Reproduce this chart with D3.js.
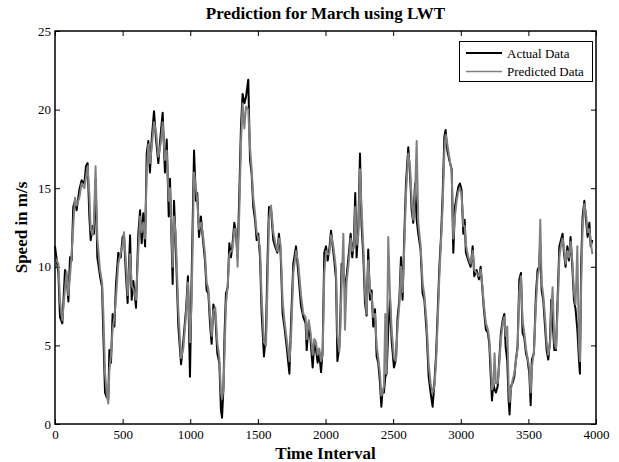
<!DOCTYPE html>
<html>
<head>
<meta charset="utf-8">
<title>Prediction for March using LWT</title>
<script src="https://cdn.jsdelivr.net/npm/d3@7/dist/d3.min.js"></script>
<style>
  html, body { margin: 0; padding: 0; background: #fff; }
  svg { display: block; }
  text { font-family: "Liberation Serif", "Times New Roman", serif; fill: #000; }
</style>
</head>
<body>
<svg class="lwt-chart" width="619" height="462"></svg>
<script>
// chart data
var timeIdx = [
  0, 25, 37, 54, 74, 86, 99, 111, 123, 135, 148, 160, 180, 197, 217, 229, 241, 254, 264, 278,
  288, 300, 313, 333, 348, 357, 370, 382, 394, 402, 414, 426, 439, 451, 468, 486, 500, 510, 525, 537,
  555, 567, 579, 599, 616, 629, 641, 653, 666, 678, 690, 702, 715, 732, 747, 764, 784, 796, 813, 826,
  841, 850, 870, 880, 892, 912, 932, 949, 969, 983, 998, 1010, 1028, 1042, 1052, 1065, 1079, 1092, 1109, 1121,
  1134, 1146, 1158, 1171, 1185, 1200, 1215, 1227, 1235, 1245, 1254, 1264, 1277, 1289, 1301, 1311, 1326, 1338, 1350, 1363,
  1375, 1387, 1400, 1412, 1429, 1442, 1454, 1466, 1479, 1491, 1503, 1516, 1528, 1545, 1560, 1572, 1582, 1597, 1614, 1627,
  1644, 1656, 1668, 1683, 1696, 1713, 1733, 1745, 1762, 1782, 1799, 1819, 1836, 1853, 1861, 1876, 1890, 1905, 1917, 1930,
  1942, 1954, 1967, 1979, 1991, 2004, 2016, 2028, 2041, 2053, 2065, 2078, 2088, 2102, 2107, 2119, 2132, 2144, 2156, 2173,
  2186, 2198, 2210, 2220, 2230, 2243, 2255, 2267, 2280, 2292, 2304, 2316, 2329, 2341, 2353, 2366, 2378, 2390, 2403, 2413,
  2422, 2432, 2442, 2452, 2464, 2477, 2489, 2506, 2521, 2533, 2546, 2558, 2570, 2583, 2595, 2612, 2625, 2637, 2649, 2662,
  2674, 2686, 2703, 2718, 2731, 2748, 2763, 2777, 2792, 2805, 2817, 2829, 2842, 2854, 2866, 2879, 2888, 2901, 2915, 2933,
  2945, 2957, 2970, 2982, 2994, 3006, 3019, 3029, 3038, 3056, 3073, 3088, 3100, 3117, 3134, 3147, 3159, 3171, 3186, 3201,
  3211, 3221, 3231, 3241, 3250, 3260, 3273, 3285, 3297, 3310, 3322, 3332, 3344, 3354, 3361, 3371, 3383, 3396, 3408, 3420,
  3433, 3445, 3457, 3470, 3482, 3494, 3507, 3517, 3526, 3541, 3556, 3568, 3578, 3588, 3598, 3610, 3623, 3635, 3647, 3660,
  3669, 3679, 3692, 3704, 3716, 3729, 3741, 3753, 3763, 3775, 3788, 3800, 3812, 3825, 3837, 3849, 3862, 3874, 3881, 3891,
  3901, 3914, 3926, 3938, 3951, 3961, 3973
];

var actualData = [
  11.3, 9.6, 6.8, 6.4, 9.8, 9.4, 7.8, 10.6, 10.4, 13.8, 14.2, 13.6, 14.9, 15.5, 15.3, 16.4, 16.6, 13.2, 11.7, 12.6,
  12.1, 15.6, 10.6, 9.4, 8.7, 5.8, 2.0, 1.7, 1.6, 4.7, 3.9, 7.0, 6.2, 8.9, 10.9, 10.6, 11.9, 12.0, 9.4, 7.7,
  12.0, 7.9, 9.1, 7.4, 12.1, 13.6, 11.5, 13.4, 11.3, 17.2, 18.0, 16.0, 18.1, 19.9, 18.1, 16.6, 18.7, 19.8, 16.0, 18.1,
  13.2, 15.6, 8.9, 14.2, 11.5, 6.2, 3.8, 5.3, 7.3, 9.4, 3.0, 9.2, 17.4, 14.2, 14.7, 11.9, 13.2, 11.9, 10.4, 8.5,
  8.3, 6.4, 5.1, 7.6, 7.0, 4.5, 3.9, 0.9, 0.4, 2.2, 5.8, 8.3, 8.7, 11.5, 10.6, 11.3, 12.8, 12.1, 10.6, 14.7,
  18.9, 21.0, 20.4, 20.8, 21.9, 16.8, 15.9, 13.8, 13.0, 11.7, 12.1, 10.6, 7.0, 4.3, 5.8, 10.6, 13.8, 13.7, 11.7, 11.3,
  10.9, 12.1, 10.9, 7.0, 6.2, 4.9, 3.2, 6.4, 10.2, 11.3, 9.6, 7.5, 6.8, 6.4, 4.7, 6.4, 5.3, 3.6, 5.1, 4.7,
  3.9, 4.5, 3.3, 4.7, 10.9, 11.3, 10.4, 11.1, 12.3, 11.3, 10.4, 9.2, 4.0, 4.9, 5.8, 10.2, 9.8, 8.6, 9.4, 10.9,
  12.1, 10.6, 11.7, 14.7, 10.6, 12.6, 17.2, 12.6, 10.6, 7.7, 6.9, 11.1, 7.9, 8.5, 6.2, 7.3, 4.3, 3.9, 2.6, 1.1,
  2.2, 2.0, 3.0, 3.2, 6.0, 7.9, 5.3, 3.6, 4.1, 6.8, 7.9, 10.6, 7.9, 12.1, 15.3, 17.6, 15.9, 13.6, 12.8, 15.3,
  13.0, 12.1, 11.1, 8.3, 7.9, 5.8, 3.0, 2.0, 1.1, 2.6, 4.3, 7.0, 10.0, 11.9, 14.5, 18.3, 18.7, 17.4, 16.8, 16.2,
  10.9, 13.8, 14.5, 15.1, 15.3, 14.9, 12.1, 13.0, 10.9, 10.4, 10.0, 11.3, 9.4, 9.8, 9.2, 10.0, 8.7, 7.3, 6.0, 5.8,
  5.1, 3.2, 1.5, 2.6, 2.2, 2.0, 2.4, 4.1, 5.8, 6.6, 7.0, 4.9, 4.0, 1.5, 0.6, 2.4, 2.6, 3.0, 4.1, 4.9,
  9.2, 9.6, 5.8, 5.5, 4.5, 4.1, 3.2, 1.2, 4.1, 4.5, 8.3, 9.8, 10.0, 11.5, 8.5, 7.9, 6.2, 4.7, 4.1, 5.3,
  7.9, 6.5, 4.7, 4.7, 7.9, 11.3, 11.7, 12.1, 10.9, 10.0, 11.3, 10.4, 11.9, 10.0, 7.9, 7.3, 6.0, 4.1, 3.2, 10.4,
  13.2, 14.2, 13.0, 11.9, 12.8, 11.3, 11.7
];

var predictedData = [
  10.6, 10.2, 7.8, 6.6, 8.6, 9.7, 8.2, 9.4, 10.8, 12.6, 14.4, 13.9, 14.4, 15.3, 15.0, 15.7, 16.4, 14.6, 12.4, 12.0,
  12.8, 16.4, 11.8, 9.8, 9.0, 7.2, 3.2, 2.0, 1.3, 3.4, 4.4, 6.0, 6.8, 8.0, 10.2, 10.9, 11.4, 12.2, 10.2, 8.2,
  10.8, 8.8, 8.6, 7.9, 11.0, 13.2, 12.2, 12.8, 11.8, 16.0, 17.8, 16.6, 17.6, 19.2, 18.6, 17.0, 18.0, 19.2, 16.8, 17.4,
  14.2, 15.0, 10.0, 13.2, 12.2, 7.2, 4.2, 4.8, 7.0, 9.0, 5.2, 7.8, 16.0, 15.0, 14.2, 12.4, 12.8, 12.2, 10.8, 9.0,
  8.6, 7.0, 5.6, 7.2, 7.4, 5.2, 4.2, 2.0, 1.6, 2.2, 4.6, 7.6, 8.8, 10.8, 11.0, 11.0, 12.4, 12.4, 10.0, 13.6,
  17.8, 20.4, 18.8, 20.2, 20.0, 17.6, 16.2, 14.4, 13.4, 12.2, 11.8, 11.2, 8.0, 5.2, 5.0, 9.2, 13.0, 13.9, 12.2, 11.6,
  11.0, 11.8, 11.4, 7.8, 6.6, 5.4, 4.0, 5.4, 9.6, 11.0, 10.2, 8.2, 7.0, 6.8, 5.4, 6.6, 5.8, 4.4, 5.4, 5.2,
  4.4, 4.8, 4.0, 4.4, 9.6, 11.0, 10.8, 10.8, 12.0, 11.6, 10.8, 9.8, 5.6, 4.6, 5.4, 8.8, 12.1, 6.0, 9.0, 10.4,
  11.8, 11.0, 11.2, 13.8, 11.4, 12.0, 16.2, 13.6, 11.2, 8.4, 7.0, 10.4, 8.4, 8.2, 6.8, 7.0, 5.0, 4.2, 3.2, 1.8,
  2.0, 2.4, 7.0, 3.2, 11.9, 8.2, 6.0, 4.2, 4.0, 6.2, 7.6, 10.0, 8.4, 11.4, 14.6, 17.2, 16.4, 14.2, 13.0, 14.6,
  18.0, 12.8, 11.4, 9.0, 8.2, 6.4, 3.8, 2.6, 2.0, 2.4, 3.8, 6.4, 9.4, 11.6, 13.8, 17.4, 18.4, 17.8, 17.0, 16.0,
  11.8, 13.2, 14.2, 14.8, 15.0, 14.6, 12.6, 12.6, 11.4, 10.6, 10.2, 11.0, 9.8, 9.6, 9.4, 9.8, 8.9, 7.6, 6.4, 6.0,
  5.4, 4.0, 2.2, 2.4, 4.5, 2.6, 2.6, 3.8, 5.4, 6.4, 6.8, 5.6, 6.2, 2.4, 1.4, 2.2, 2.8, 3.2, 4.0, 4.8,
  8.4, 9.4, 6.6, 5.8, 4.8, 4.2, 3.6, 2.0, 3.6, 4.6, 7.6, 9.4, 9.8, 13.0, 9.0, 8.2, 6.8, 5.2, 4.4, 5.0,
  7.2, 8.7, 5.2, 4.8, 7.2, 10.6, 11.4, 11.8, 11.2, 10.2, 11.0, 10.6, 11.6, 10.4, 8.4, 7.6, 11.3, 5.0, 4.0, 9.0,
  12.6, 14.0, 13.4, 12.2, 12.4, 11.6, 10.8
];

var xTicks = [0, 500, 1000, 1500, 2000, 2500, 3000, 3500, 4000];
var yTicks = [0, 5, 10, 15, 20, 25];
var legendLabels = ['Actual Data', 'Predicted Data'];

(function LwtChartModule() {

  'use strict';

  // vars
  var _svg = d3.select('.lwt-chart'),
    _left = 55,
    _right = 596,
    _top = 31,
    _bottom = 424,
    _tickLen = 5,
    _serif = '"Liberation Serif", "Times New Roman", serif',
    _colors = ['#000000', '#808080'];

  var x = d3.scaleLinear().domain([0, 4000]).range([_left, _right]);
  var y = d3.scaleLinear().domain([0, 25]).range([_bottom, _top]);

  activate();

  function activate() {
    renderAxes();
    renderSeries(actualData, _colors[0]);
    renderSeries(predictedData, _colors[1]);
    renderFrame();
    renderLegend();
    renderLabels();
  }

  function renderAxes() {
    // bottom + left with labels, top + right mirrored ticks only
    var bottom = _svg.append('g')
      .attr('transform', 'translate(0,' + _bottom + ')')
      .call(d3.axisBottom(x).tickValues(xTicks).tickFormat(d3.format('d'))
        .tickSizeInner(-_tickLen).tickSizeOuter(0).tickPadding(6));
    var left = _svg.append('g')
      .attr('transform', 'translate(' + _left + ',0)')
      .call(d3.axisLeft(y).tickValues(yTicks).tickFormat(d3.format('d'))
        .tickSizeInner(-_tickLen).tickSizeOuter(0).tickPadding(4));
    var top = _svg.append('g')
      .attr('transform', 'translate(0,' + _top + ')')
      .call(d3.axisTop(x).tickValues(xTicks).tickSizeInner(-_tickLen).tickSizeOuter(0).tickFormat(''));
    var right = _svg.append('g')
      .attr('transform', 'translate(' + _right + ',0)')
      .call(d3.axisRight(y).tickValues(yTicks).tickSizeInner(-_tickLen).tickSizeOuter(0).tickFormat(''));

    [bottom, left, top, right].forEach(function styleAxis(g) {
      g.attr('font-family', _serif);
      g.select('.domain').remove();
      g.selectAll('line').attr('stroke', '#000').attr('stroke-width', 1);
      g.selectAll('text')
        .style('font-family', _serif)
        .style('font-size', '13px');
    });
  }

  function renderSeries(values, color) {
    var line = d3.line()
      .x(function (d, i) { return x(timeIdx[i]); })
      .y(function (d) { return y(d); });

    _svg.append('path')
      .datum(values)
      .attr('fill', 'none')
      .attr('stroke', color)
      .attr('stroke-width', 2)
      .attr('stroke-linejoin', 'round')
      .attr('d', line);
  }

  function renderFrame() {
    _svg.append('rect')
      .attr('x', _left)
      .attr('y', _top)
      .attr('width', _right - _left)
      .attr('height', _bottom - _top)
      .attr('fill', 'none')
      .attr('stroke', '#000')
      .attr('stroke-width', 1.5);
  }

  function renderLegend() {
    var g = _svg.append('g');

    g.append('rect')
      .attr('x', 459.5)
      .attr('y', 41.5)
      .attr('width', 133)
      .attr('height', 40)
      .attr('fill', '#fff')
      .attr('stroke', '#000')
      .attr('stroke-width', 1);

    legendLabels.forEach(function drawEntry(label, i) {
      var cy = 53 + i * 18.5;
      g.append('line')
        .attr('x1', 466)
        .attr('x2', 502)
        .attr('y1', cy)
        .attr('y2', cy)
        .attr('stroke', _colors[i])
        .attr('stroke-width', i === 0 ? 2 : 1.5);
      g.append('text')
        .attr('x', 507)
        .attr('y', cy + 4.5)
        .style('font-size', '13px')
        .text(label);
    });
  }

  function renderLabels() {
    _svg.append('text')
      .attr('x', (_left + _right) / 2)
      .attr('y', 19)
      .attr('text-anchor', 'middle')
      .style('font-size', '17px')
      .style('font-weight', 'bold')
      .text('Prediction for March using LWT');

    _svg.append('text')
      .attr('x', (_left + _right) / 2)
      .attr('y', 459)
      .attr('text-anchor', 'middle')
      .style('font-size', '17px')
      .style('font-weight', 'bold')
      .text('Time Interval');

    _svg.append('text')
      .attr('transform', 'translate(27,' + ((_top + _bottom) / 2) + ') rotate(-90)')
      .attr('text-anchor', 'middle')
      .style('font-size', '17px')
      .style('font-weight', 'bold')
      .text('Speed in m/s');
  }

})();
</script>
</body>
</html>
